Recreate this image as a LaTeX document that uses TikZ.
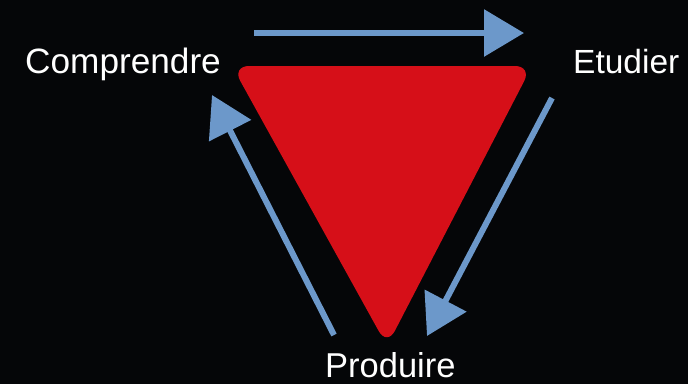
\documentclass[tikz,border=0pt]{standalone}
\usepackage{fontspec}
\setmainfont{Liberation Sans}
\usetikzlibrary{arrows.meta}
\definecolor{bgc}{RGB}{5,6,8}
\definecolor{redtri}{RGB}{214,15,24}
\definecolor{arrowblue}{RGB}{108,152,202}
\tikzset{
  label/.style={text=white, inner sep=0pt, anchor=base west},
  cyclearrow/.style={draw=arrowblue, line width=6pt, -{Triangle[length=40pt,width=46pt]}},
}
\begin{document}
\begin{tikzpicture}[x=1pt,y=-1pt]
\useasboundingbox (0,0) rectangle (688,384);
\fill[bgc] (0,0) rectangle (688,384);
% triangle
\fill[redtri, rounded corners=17pt] (232,66) -- (532,66) -- (387,346) -- cycle;
% labels
\node[label, font=\fontsize{35.2}{40}\selectfont] (comp) at (25,73) {Comprendre};
\node[label, font=\fontsize{33.5}{40}\selectfont] (etud) at (573,73) {Etudier};
\node[label, font=\fontsize{34.5}{40}\selectfont] (prod) at (325,377) {Produire};
% arrow end points
\coordinate (a1s) at (254,33);
\coordinate (a1e) at (524,33);
\coordinate (a2s) at (552,98);
\coordinate (a2e) at (427,336);
\coordinate (a3s) at (334,335);
\coordinate (a3e) at (212,95);
\draw[cyclearrow] (a1s) -- (a1e);
\draw[cyclearrow] (a2s) -- (a2e);
\draw[cyclearrow] (a3s) -- (a3e);
\end{tikzpicture}
\end{document}
